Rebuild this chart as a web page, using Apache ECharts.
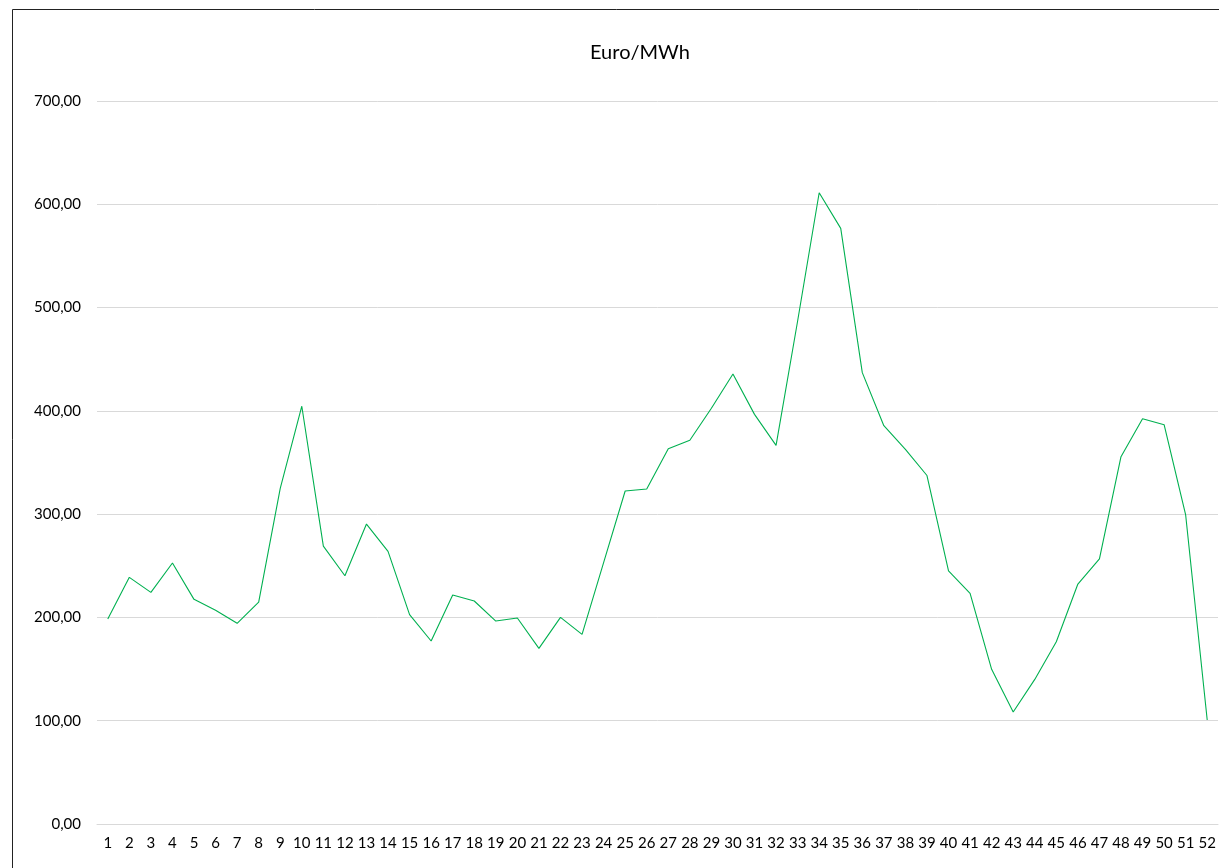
<!DOCTYPE html>
<html>
<head>
<meta charset="utf-8">
<script src="https://cdn.jsdelivr.net/npm/echarts@6/dist/echarts.min.js"></script>
<style>
html,body{margin:0;padding:0;background:#fff;}
#chart{width:1219px;height:868px;}
</style>
</head>
<body>
<div id="chart"></div>
<script>
const chartTitle = "Euro/MWh";
const weeks = ["1","2","3","4","5","6","7","8","9","10","11","12","13","14","15","16","17","18","19","20","21","22","23","24","25","26","27","28","29","30","31","32","33","34","35","36","37","38","39","40","41","42","43","44","45","46","47","48","49","50","51","52"];
const prices = [198.5, 238.8, 224.3, 252.7, 217.5, 207, 194.3, 214.9, 325, 404.5,
                269, 240.4, 290.4, 264, 202.7, 177.2, 221.7, 215.9, 196.5, 199.4,
                170, 200, 183.6, 253, 322.4, 324.3, 363.4, 371.5, 402.5, 435.7,
                396.6, 366.6, 487, 611.2, 576.7, 437, 385.6, 362.8, 337.4, 245,
                223.3, 149.8, 108.4, 140, 176.5, 232.3, 256.6, 355.6, 392.4, 386.6,
                299.2, 100.7];
const yMin = 0, yMax = 700, yStep = 100;

const font = "Lato, 'Open Sans', sans-serif";
const chart = echarts.init(document.getElementById('chart'), null, {renderer: 'canvas'});
chart.setOption({
  animation: false,
  backgroundColor: '#fff',
  title: {
    text: chartTitle,
    left: 585, top: 38,
    textStyle: {fontFamily: font, fontSize: 20, fontWeight: 'normal', color: '#000'}
  },
  graphic: [{
    type: 'rect', silent: true,
    shape: {x: 12.5, y: 9.5, width: 1400, height: 1000},
    style: {fill: 'none', stroke: '#222', lineWidth: 1}
  }],
  grid: {left: 97, right: 1, top: 101, bottom: 44, containLabel: false},
  xAxis: {
    type: 'category',
    data: weeks,
    boundaryGap: true,
    axisLine: {show: true, lineStyle: {color: '#d9d9d9', width: 1}},
    axisTick: {show: false},
    axisLabel: {interval: 0, margin: 12, fontFamily: font, fontSize: 15, color: '#000'}
  },
  yAxis: {
    type: 'value',
    min: yMin, max: yMax, interval: yStep,
    axisLine: {show: false},
    axisTick: {show: false},
    splitLine: {lineStyle: {color: '#d9d9d9', width: 1}},
    axisLabel: {
      margin: 16, fontFamily: font, fontSize: 15, color: '#000',
      formatter: v => v.toFixed(2).replace('.', ',')
    }
  },
  series: [{
    type: 'line',
    data: prices,
    symbol: 'none',
    lineStyle: {color: '#00B050', width: 1.1},
    itemStyle: {color: '#00B050'}
  }]
});
</script>
</body>
</html>
